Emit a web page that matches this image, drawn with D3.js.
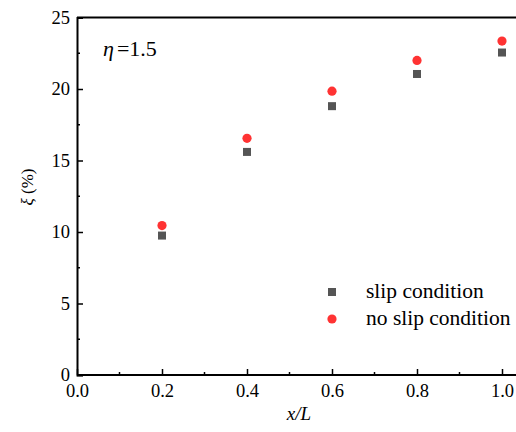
<html>
  <head>
    <script src="https://d3js.org/d3.v7.min.js"></script>
    <style>
      body { margin: 0; background: #fff; }
      svg text { font-family: "Liberation Serif", "DejaVu Serif", serif; fill: black; }
    </style>
  </head>
  <body>
    <svg id="chart" width="516" height="432"></svg>
    <script>
      // data
      const xPos = [0.2, 0.4, 0.6, 0.8, 1.0];
      const slip = [9.75, 15.6, 18.8, 21.05, 22.55];
      const noSlip = [10.45, 16.55, 19.85, 22.0, 23.35];
      const xTicks = [0.0, 0.2, 0.4, 0.6, 0.8, 1.0];
      const yTicks = [0, 5, 10, 15, 20, 25];
      const serif = "'Liberation Serif', 'DejaVu Serif', serif";

      const svg = d3.select('svg#chart');
      const margin = {top: 17.5, left: 77, bottom: 57};
      const chartHeight = 432 - margin.top - margin.bottom;

      const x = d3.scaleLinear().domain([0, 1]).range([margin.left, margin.left + 425]);
      const y = d3.scaleLinear().domain([0, 25]).range([margin.top + chartHeight, margin.top]);

      // frame (top line runs off the right edge)
      svg.append("line")
        .attr("x1", x(0)).attr("x2", x(1.06))
        .attr("y1", y(25)).attr("y2", y(25))
        .attr("stroke", "black").attr("stroke-width", 2);

      // x axis, ticks inward
      const xAxis = svg.append("g")
        .attr("transform", `translate(0,${y(0)})`)
        .call(d3.axisBottom(x).tickValues(xTicks).tickSize(-6).tickPadding(9).tickFormat(d3.format(".1f")));
      xAxis.append("g").selectAll("line")
        .data([0.1, 0.3, 0.5, 0.7, 0.9])
        .join("line")
        .attr("x1", d => x(d)).attr("x2", d => x(d))
        .attr("y1", 0).attr("y2", -3)
        .attr("stroke", "black").attr("stroke-width", 1.5);

      // y axis, ticks inward
      const yAxis = svg.append("g")
        .attr("transform", `translate(${x(0)},0)`)
        .call(d3.axisLeft(y).tickValues(yTicks).tickSize(-6).tickPadding(7));
      yAxis.append("g").selectAll("line")
        .data([2.5, 7.5, 12.5, 17.5, 22.5])
        .join("line")
        .attr("x1", 0).attr("x2", 3)
        .attr("y1", d => y(d)).attr("y2", d => y(d))
        .attr("stroke", "black").attr("stroke-width", 1.5);

      [xAxis, yAxis].forEach(g => {
        g.attr("font-family", serif);
        g.select(".domain").attr("stroke", "black").attr("stroke-width", 2);
        g.selectAll(".tick line").attr("stroke", "black").attr("stroke-width", 1.5);
        g.selectAll(".tick text")
          .style("font-family", serif)
          .style("font-size", "18.5px").attr("fill", "black");
      });
      // extend x axis domain past the window edge
      xAxis.select(".domain").attr("d", `M${x(0)},0H${x(1.06)}`);

      // points
      svg.selectAll(".sq")
        .data(xPos.map((d, i) => [d, slip[i]]))
        .join("rect")
        .attr("class", "sq")
        .attr("x", d => x(d[0]) - 4).attr("y", d => y(d[1]) - 4)
        .attr("width", 8).attr("height", 8)
        .attr("fill", "#555555");

      svg.selectAll(".dot")
        .data(xPos.map((d, i) => [d, noSlip[i]]))
        .join("circle")
        .attr("class", "dot")
        .attr("cx", d => x(d[0])).attr("cy", d => y(d[1]))
        .attr("r", 4.6)
        .attr("fill", "#ff3333");

      // legend
      const legend = svg.append("g");
      legend.append("rect").attr("x", 328).attr("y", 288).attr("width", 8).attr("height", 8).attr("fill", "#555555");
      legend.append("circle").attr("cx", 332).attr("cy", 319).attr("r", 4.6).attr("fill", "#ff3333");
      legend.append("text").attr("x", 366).attr("y", 298).style("font-size", "21.5px").text("slip condition");
      legend.append("text").attr("x", 366).attr("y", 325).style("font-size", "21.5px").text("no slip condition");

      // annotation
      const ann = svg.append("text").attr("x", 103).attr("y", 56).style("font-size", "22px");
      ann.append("tspan").style("font-style", "italic").text("η");
      ann.append("tspan").attr("dx", 3).text("=1.5");

      // axis labels
      svg.append("text")
        .attr("transform", "translate(33,187) rotate(-90)")
        .attr("text-anchor", "middle")
        .style("font-size", "17px")
        .html('<tspan font-style="italic">ξ</tspan> (%)');

      svg.append("text")
        .attr("x", 299).attr("y", 420)
        .attr("text-anchor", "middle")
        .style("font-size", "19px").style("font-style", "italic")
        .text("x/L");
    </script>
  </body>
</html>
